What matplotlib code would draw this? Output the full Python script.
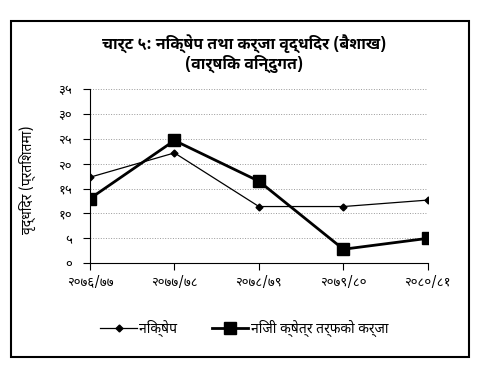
import matplotlib
matplotlib.use("Agg")
import matplotlib.pyplot as plt
from matplotlib.patches import Rectangle

plt.rcParams['font.family'] = ['Noto Sans Devanagari', 'Mukta', 'Kalam', 'DejaVu Sans']

# data
years = ['२०७६/७७', '२०७७/७८', '२०७८/७९', '२०७९/८०', '२०८०/८१']
deposit = [17.3, 22.2, 11.4, 11.4, 12.7]
loan = [13.0, 24.7, 16.5, 2.8, 5.0]
yticks = [0, 5, 10, 15, 20, 25, 30, 35]
ytick_labels = ['०', '५', '१०', '१५', '२०', '२५', '३०', '३५']

fig = plt.figure(figsize=(4.89, 3.77), dpi=100)
ax = fig.add_axes([0.184, 0.302, 0.691, 0.461])

x = range(len(years))
ax.plot(x, deposit, color='black', linewidth=0.9, marker='D', markersize=3.5,
        label='निक्षेप')
ax.plot(x, loan, color='black', linewidth=2, marker='s', markersize=8,
        label='निजी क्षेत्र तर्फको कर्जा')

ax.set_xlim(0, len(years) - 1)
ax.set_ylim(0, 35)
ax.set_xticks(list(x))
ax.set_xticklabels(years, fontsize=9.5)
ax.set_yticks(yticks)
ax.set_yticklabels(ytick_labels, fontsize=9.5)
ax.tick_params(direction='out', length=5, width=0.8, colors='black', pad=4)
ax.tick_params(axis='y', pad=8)
ax.grid(axis='y', linestyle=':', color='#999999', linewidth=0.7)
for s in ['top', 'right']:
    ax.spines[s].set_visible(False)
for s in ['left', 'bottom']:
    ax.spines[s].set_linewidth(0.8)
ax.set_ylabel('वृद्धिदर (प्रतिशतमा)', fontsize=10)
ax.yaxis.set_label_coords(-0.16, 0.48)

bold = ['Noto Sans Devanagari UI', 'Noto Sans Devanagari', 'DejaVu Sans']
fig.text(0.5, 0.885, 'चार्ट ५: निक्षेप तथा कर्जा वृद्धिदर (बैशाख)', ha='center',
         va='center', fontsize=11.5, fontweight='bold', family=bold)
fig.text(0.5, 0.83, '(वार्षिक विन्दुगत)', ha='center', va='center',
         fontsize=11.5, fontweight='bold', family=bold)

fig.legend(loc='center', bbox_to_anchor=(0.5, 0.13), ncol=2, frameon=False,
           fontsize=10, handlelength=2.6, columnspacing=2.5, handletextpad=0.2)

fig.patches.append(Rectangle((0.0225, 0.053), 0.937, 0.891, transform=fig.transFigure,
                             fill=False, edgecolor='black', linewidth=1.5))

fig.savefig('out.png', dpi=100)
